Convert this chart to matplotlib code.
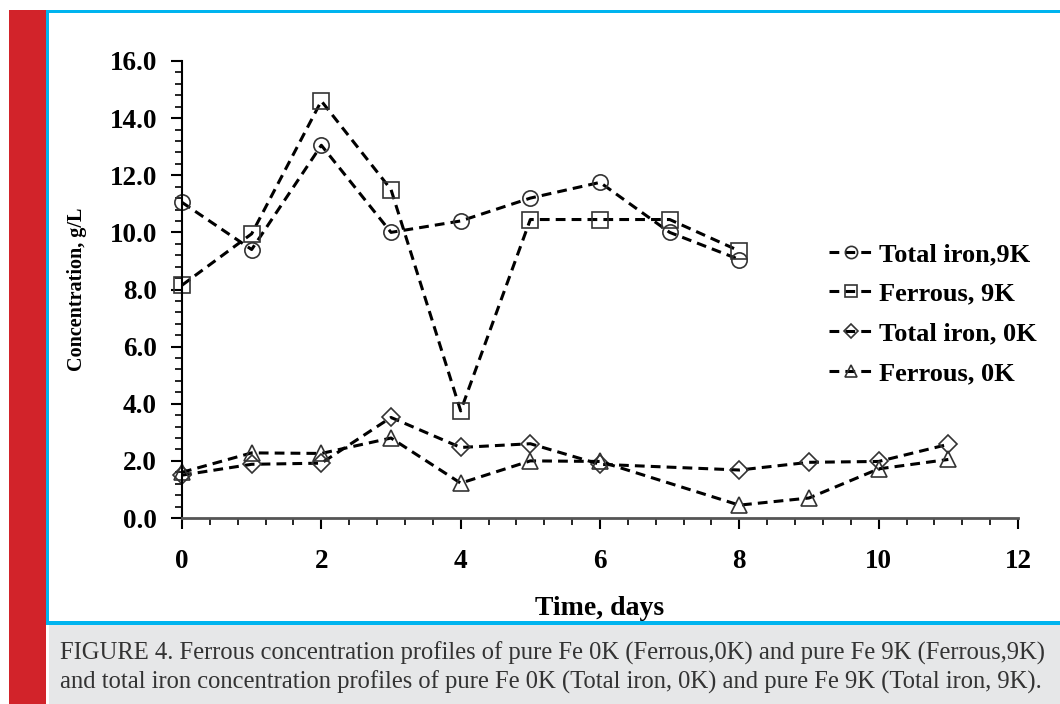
import matplotlib

matplotlib.use("Agg")
import matplotlib.pyplot as plt
from matplotlib.patches import Rectangle
from matplotlib.ticker import MultipleLocator, FormatStrFormatter

plt.rcParams["font.family"] = ["Liberation Serif", "DejaVu Serif"]

# data
days_9k = [0, 1, 2, 3, 4, 5, 6, 7, 8]
total_iron_9k = [11.05, 9.4, 13.05, 10.0, 10.4, 11.2, 11.75, 10.0, 9.05]
ferrous_9k = [8.15, 9.95, 14.6, 11.5, 3.75, 10.45, 10.45, 10.45, 9.35]

days_0k = [0, 1, 2, 3, 4, 5, 6, 8, 9, 10, 11]
total_iron_0k = [1.5, 1.88, 1.92, 3.52, 2.47, 2.6, 1.88, 1.68, 1.95, 1.98, 2.58]
ferrous_0k = [1.6, 2.28, 2.26, 2.8, 1.22, 2.0, 1.98, 0.45, 0.7, 1.72, 2.05]

labels = ["Total iron,9K", "Ferrous, 9K", "Total iron, 0K", "Ferrous, 0K"]
caption = ("FIGURE 4. Ferrous concentration profiles of pure Fe 0K (Ferrous,0K) and pure Fe 9K (Ferrous,9K)\n"
           "and total iron concentration profiles of pure Fe 0K (Total iron, 0K) and pure Fe 9K (Total iron, 9K).")

W, H = 1060, 704
fig = plt.figure(figsize=(W / 100, H / 100), dpi=100)

# page decorations: red side bar, blue frame lines, grey caption box
deco = fig.add_axes((0, 0, 1, 1)); deco.axis("off")
deco.set_xlim(0, W); deco.set_ylim(H, 0)
deco.add_patch(Rectangle((9, 10), 37, H - 10, color="#d2232a", lw=0))
deco.add_patch(Rectangle((46, 10), 3, 614, color="#00b4ef", lw=0))
deco.add_patch(Rectangle((46, 10), W - 46, 3, color="#00b4ef", lw=0))
deco.add_patch(Rectangle((46, 621), W - 46, 4, color="#00b4ef", lw=0))
deco.add_patch(Rectangle((49, 625), W - 49, H - 625, color="#e6e7e8", lw=0))
deco.text(60, 668, caption, fontsize=17.7, color="#333333", va="center", ha="left",
          linespacing=1.32)

ax = fig.add_axes((182 / W, 1 - 518 / H, (1018 - 182) / W, (518 - 61) / H))
style = dict(color="black", ls=(0, (3.2, 2)), lw=2.2, mfc="none", mec="#333333", mew=1.2)
ax.plot(days_9k, total_iron_9k, marker="o", ms=11, label=labels[0], **style)
ax.plot(days_9k, ferrous_9k, marker="s", ms=11, label=labels[1], **style)
ax.plot(days_0k, total_iron_0k, marker="D", ms=9, label=labels[2], **style)
ax.plot(days_0k, ferrous_0k, marker="^", ms=11, label=labels[3], **style)

ax.set_xlim(0, 12)
ax.set_ylim(0, 16)
ax.xaxis.set_major_locator(MultipleLocator(2))
ax.xaxis.set_minor_locator(MultipleLocator(0.4))
ax.yaxis.set_major_locator(MultipleLocator(2))
ax.yaxis.set_minor_locator(MultipleLocator(0.4))
ax.yaxis.set_major_formatter(FormatStrFormatter("%.1f"))
for side in ("top", "right"):
    ax.spines[side].set_visible(False)
ax.spines["left"].set_linewidth(1.5)
ax.spines["bottom"].set_linewidth(2.0)
ax.spines["bottom"].set_color("#555555")
ax.tick_params(which="major", direction="out", length=8, width=1.5, labelsize=19.5)
ax.tick_params(which="minor", direction="out", length=5, width=1.2)
ax.tick_params(axis="x", which="major", pad=14)
ax.tick_params(axis="y", which="major", pad=10)
for lbl in ax.get_xticklabels() + ax.get_yticklabels():
    lbl.set_fontweight("bold")
for line in ax.lines:
    line.set_clip_on(False)

ax.set_xlabel("Time, days", fontsize=20, fontweight="bold", labelpad=16)
ax.set_ylabel("Concentration, g/L", fontsize=14.5, fontweight="bold", labelpad=16)

leg = ax.legend(loc="upper left", bbox_to_anchor=(0.745, 0.655), frameon=False,
                fontsize=19, handlelength=1.7, handletextpad=0.2, labelspacing=0.62,
                markerscale=0.8)
for text in leg.get_texts():
    text.set_fontweight("bold")

fig.savefig("out.png", dpi=100)
